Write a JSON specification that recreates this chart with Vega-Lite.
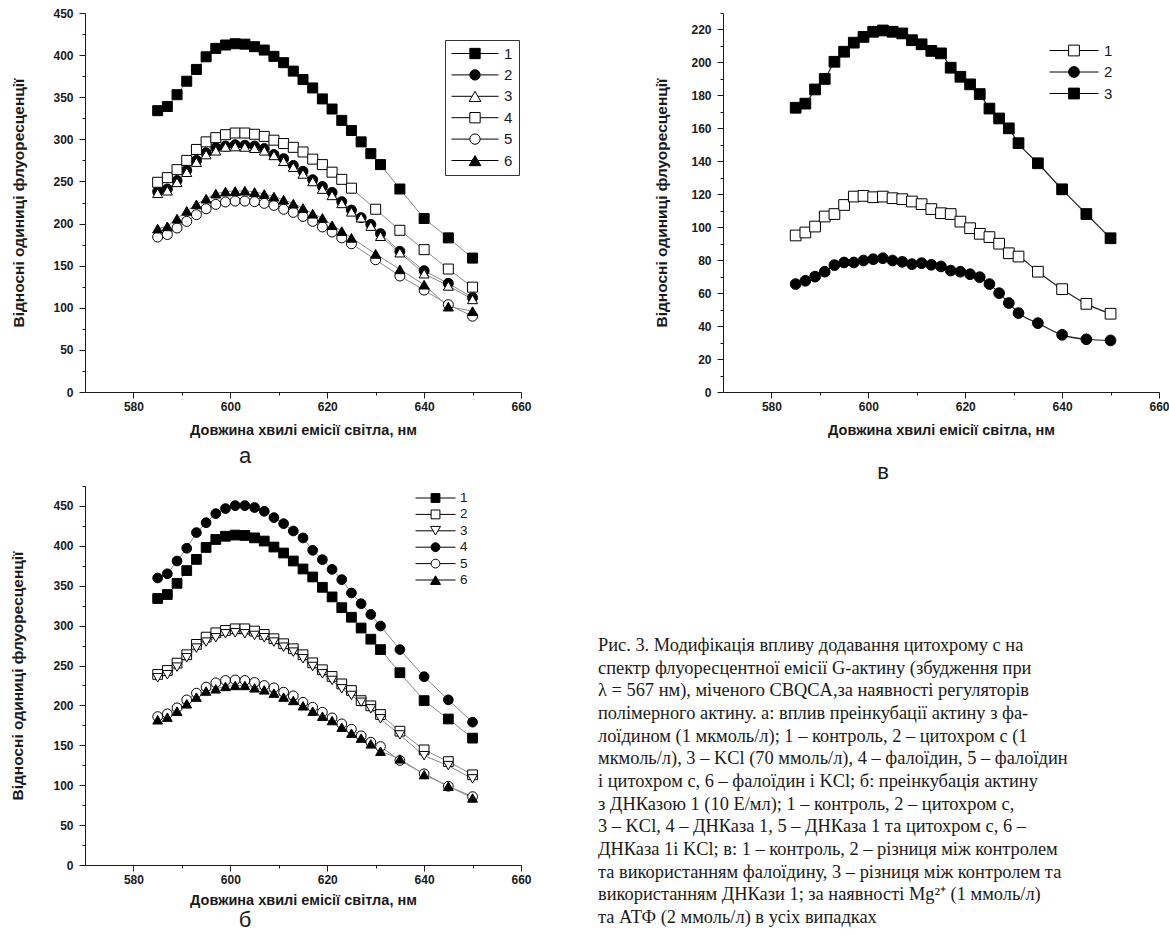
{
  "$schema": "https://vega.github.io/schema/vega-lite/v6.json",
  "background": "white",
  "padding": {"left": 10, "top": 7, "right": 0, "bottom": 0},
  "spacing": -3,
  "datasets": {
    "a": [
      {"w":585,"s":"1","v":334},{"w":587,"s":"1","v":339},{"w":589,"s":"1","v":353},{"w":591,"s":"1","v":369},{"w":593,"s":"1","v":383},{"w":595,"s":"1","v":398},{"w":597,"s":"1","v":408},{"w":599,"s":"1","v":412},{"w":601,"s":"1","v":413.5},{"w":603,"s":"1","v":413},{"w":605,"s":"1","v":410},{"w":607,"s":"1","v":406},{"w":609,"s":"1","v":398.5},{"w":611,"s":"1","v":391},{"w":613,"s":"1","v":381},{"w":615,"s":"1","v":371},{"w":617,"s":"1","v":361},{"w":619,"s":"1","v":348},{"w":621,"s":"1","v":336},{"w":623,"s":"1","v":322.5},{"w":625,"s":"1","v":310.5},{"w":627,"s":"1","v":297},{"w":629,"s":"1","v":283},{"w":631,"s":"1","v":270},{"w":635,"s":"1","v":241},{"w":640,"s":"1","v":206},{"w":645,"s":"1","v":183},{"w":650,"s":"1","v":159},
      {"w":585,"s":"2","v":238},{"w":587,"s":"2","v":241},{"w":589,"s":"2","v":251},{"w":591,"s":"2","v":263},{"w":593,"s":"2","v":275},{"w":595,"s":"2","v":284},{"w":597,"s":"2","v":290},{"w":599,"s":"2","v":292},{"w":601,"s":"2","v":293.5},{"w":603,"s":"2","v":293},{"w":605,"s":"2","v":292},{"w":607,"s":"2","v":289},{"w":609,"s":"2","v":282},{"w":611,"s":"2","v":277},{"w":613,"s":"2","v":269},{"w":615,"s":"2","v":262},{"w":617,"s":"2","v":252},{"w":619,"s":"2","v":244},{"w":621,"s":"2","v":237},{"w":623,"s":"2","v":226},{"w":625,"s":"2","v":216},{"w":627,"s":"2","v":207},{"w":629,"s":"2","v":199},{"w":631,"s":"2","v":188},{"w":635,"s":"2","v":167},{"w":640,"s":"2","v":144},{"w":645,"s":"2","v":129},{"w":650,"s":"2","v":112},
      {"w":585,"s":"3","v":236},{"w":587,"s":"3","v":239},{"w":589,"s":"3","v":249},{"w":591,"s":"3","v":261},{"w":593,"s":"3","v":273},{"w":595,"s":"3","v":282},{"w":597,"s":"3","v":286.5},{"w":599,"s":"3","v":291},{"w":601,"s":"3","v":291.5},{"w":603,"s":"3","v":291},{"w":605,"s":"3","v":289.5},{"w":607,"s":"3","v":286.5},{"w":609,"s":"3","v":281},{"w":611,"s":"3","v":274},{"w":613,"s":"3","v":267},{"w":615,"s":"3","v":259},{"w":617,"s":"3","v":250},{"w":619,"s":"3","v":241},{"w":621,"s":"3","v":233.5},{"w":623,"s":"3","v":224},{"w":625,"s":"3","v":214},{"w":627,"s":"3","v":207},{"w":629,"s":"3","v":197},{"w":631,"s":"3","v":185},{"w":635,"s":"3","v":165.5},{"w":640,"s":"3","v":140.5},{"w":645,"s":"3","v":126},{"w":650,"s":"3","v":110},
      {"w":585,"s":"4","v":249},{"w":587,"s":"4","v":254.5},{"w":589,"s":"4","v":264},{"w":591,"s":"4","v":275},{"w":593,"s":"4","v":288},{"w":595,"s":"4","v":297},{"w":597,"s":"4","v":302},{"w":599,"s":"4","v":305.5},{"w":601,"s":"4","v":307.5},{"w":603,"s":"4","v":307.5},{"w":605,"s":"4","v":306},{"w":607,"s":"4","v":303.5},{"w":609,"s":"4","v":299},{"w":611,"s":"4","v":295},{"w":613,"s":"4","v":290.5},{"w":615,"s":"4","v":285},{"w":617,"s":"4","v":276.5},{"w":619,"s":"4","v":270},{"w":621,"s":"4","v":261},{"w":623,"s":"4","v":252.5},{"w":625,"s":"4","v":242},{"w":630,"s":"4","v":217},{"w":635,"s":"4","v":192},{"w":640,"s":"4","v":169},{"w":645,"s":"4","v":146},{"w":650,"s":"4","v":124.5},
      {"w":585,"s":"5","v":184},{"w":587,"s":"5","v":187},{"w":589,"s":"5","v":194.7},{"w":591,"s":"5","v":202.6},{"w":593,"s":"5","v":210.5},{"w":595,"s":"5","v":217.6},{"w":597,"s":"5","v":222.8},{"w":599,"s":"5","v":225.6},{"w":601,"s":"5","v":226.7},{"w":603,"s":"5","v":226.7},{"w":605,"s":"5","v":226},{"w":607,"s":"5","v":224},{"w":609,"s":"5","v":221.6},{"w":611,"s":"5","v":217},{"w":613,"s":"5","v":213.3},{"w":615,"s":"5","v":208.5},{"w":617,"s":"5","v":202.6},{"w":619,"s":"5","v":196},{"w":621,"s":"5","v":190},{"w":623,"s":"5","v":183},{"w":625,"s":"5","v":176},{"w":630,"s":"5","v":157},{"w":635,"s":"5","v":137.7},{"w":640,"s":"5","v":121},{"w":645,"s":"5","v":103.7},{"w":650,"s":"5","v":90},
      {"w":585,"s":"6","v":194},{"w":587,"s":"6","v":196.7},{"w":589,"s":"6","v":205.8},{"w":591,"s":"6","v":215},{"w":593,"s":"6","v":222.8},{"w":595,"s":"6","v":229.5},{"w":597,"s":"6","v":235.5},{"w":599,"s":"6","v":238},{"w":601,"s":"6","v":238.6},{"w":603,"s":"6","v":239},{"w":605,"s":"6","v":237.4},{"w":607,"s":"6","v":235},{"w":609,"s":"6","v":232},{"w":611,"s":"6","v":228.3},{"w":613,"s":"6","v":223.6},{"w":615,"s":"6","v":218.4},{"w":617,"s":"6","v":211.7},{"w":619,"s":"6","v":206.6},{"w":621,"s":"6","v":198},{"w":623,"s":"6","v":191},{"w":625,"s":"6","v":183},{"w":630,"s":"6","v":164},{"w":635,"s":"6","v":145.6},{"w":640,"s":"6","v":127.4},{"w":645,"s":"6","v":101.3},{"w":650,"s":"6","v":96}
    ],
    "b": [
      {"w":585,"s":"1","v":334},{"w":587,"s":"1","v":339},{"w":589,"s":"1","v":353},{"w":591,"s":"1","v":369},{"w":593,"s":"1","v":383},{"w":595,"s":"1","v":398},{"w":597,"s":"1","v":408},{"w":599,"s":"1","v":412},{"w":601,"s":"1","v":413.5},{"w":603,"s":"1","v":413},{"w":605,"s":"1","v":410},{"w":607,"s":"1","v":406},{"w":609,"s":"1","v":398.5},{"w":611,"s":"1","v":391},{"w":613,"s":"1","v":381},{"w":615,"s":"1","v":371},{"w":617,"s":"1","v":361},{"w":619,"s":"1","v":348},{"w":621,"s":"1","v":336},{"w":623,"s":"1","v":322.5},{"w":625,"s":"1","v":310.5},{"w":627,"s":"1","v":297},{"w":629,"s":"1","v":283},{"w":631,"s":"1","v":270},{"w":635,"s":"1","v":241},{"w":640,"s":"1","v":206},{"w":645,"s":"1","v":183},{"w":650,"s":"1","v":159},
      {"w":585,"s":"2","v":238.8},{"w":587,"s":"2","v":243.8},{"w":589,"s":"2","v":253},{"w":591,"s":"2","v":263.5},{"w":593,"s":"2","v":276.5},{"w":595,"s":"2","v":285.6},{"w":597,"s":"2","v":291},{"w":599,"s":"2","v":294},{"w":601,"s":"2","v":296},{"w":603,"s":"2","v":296},{"w":605,"s":"2","v":293.2},{"w":607,"s":"2","v":289},{"w":609,"s":"2","v":283.6},{"w":611,"s":"2","v":277.3},{"w":613,"s":"2","v":271},{"w":615,"s":"2","v":263.5},{"w":617,"s":"2","v":253.4},{"w":619,"s":"2","v":244.7},{"w":621,"s":"2","v":236.3},{"w":623,"s":"2","v":227},{"w":625,"s":"2","v":218.7},{"w":627,"s":"2","v":206},{"w":629,"s":"2","v":199.5},{"w":631,"s":"2","v":188.6},{"w":635,"s":"2","v":167.7},{"w":640,"s":"2","v":144.3},{"w":645,"s":"2","v":129.6},{"w":650,"s":"2","v":113},
      {"w":585,"s":"3","v":234.6},{"w":587,"s":"3","v":238.4},{"w":589,"s":"3","v":248},{"w":591,"s":"3","v":259.7},{"w":593,"s":"3","v":271.9},{"w":595,"s":"3","v":279.4},{"w":597,"s":"3","v":284.8},{"w":599,"s":"3","v":289.8},{"w":601,"s":"3","v":291},{"w":603,"s":"3","v":289.8},{"w":605,"s":"3","v":287.7},{"w":607,"s":"3","v":284.8},{"w":609,"s":"3","v":279.4},{"w":611,"s":"3","v":273},{"w":613,"s":"3","v":266.8},{"w":615,"s":"3","v":258.5},{"w":617,"s":"3","v":248.8},{"w":619,"s":"3","v":239.6},{"w":621,"s":"3","v":231.3},{"w":623,"s":"3","v":220.8},{"w":625,"s":"3","v":212.5},{"w":627,"s":"3","v":204},{"w":629,"s":"3","v":195.7},{"w":631,"s":"3","v":183.2},{"w":635,"s":"3","v":163},{"w":640,"s":"3","v":137},{"w":645,"s":"3","v":124.6},{"w":650,"s":"3","v":107.9},
      {"w":585,"s":"4","v":359.7},{"w":587,"s":"4","v":365},{"w":589,"s":"4","v":381},{"w":591,"s":"4","v":397},{"w":593,"s":"4","v":416.6},{"w":595,"s":"4","v":429},{"w":597,"s":"4","v":440.4},{"w":599,"s":"4","v":446.7},{"w":601,"s":"4","v":450.4},{"w":603,"s":"4","v":450.4},{"w":605,"s":"4","v":448},{"w":607,"s":"4","v":443.3},{"w":609,"s":"4","v":435.4},{"w":611,"s":"4","v":427.8},{"w":613,"s":"4","v":418.6},{"w":615,"s":"4","v":409.9},{"w":617,"s":"4","v":394.4},{"w":619,"s":"4","v":382.7},{"w":621,"s":"4","v":370.5},{"w":623,"s":"4","v":357.6},{"w":625,"s":"4","v":340.9},{"w":627,"s":"4","v":327.5},{"w":629,"s":"4","v":314},{"w":631,"s":"4","v":299.5},{"w":635,"s":"4","v":270},{"w":640,"s":"4","v":236},{"w":645,"s":"4","v":207},{"w":650,"s":"4","v":179},
      {"w":585,"s":"5","v":186},{"w":587,"s":"5","v":189.5},{"w":589,"s":"5","v":197},{"w":591,"s":"5","v":207},{"w":593,"s":"5","v":215.4},{"w":595,"s":"5","v":223},{"w":597,"s":"5","v":228.4},{"w":599,"s":"5","v":231.3},{"w":601,"s":"5","v":232},{"w":603,"s":"5","v":231.3},{"w":605,"s":"5","v":228.8},{"w":607,"s":"5","v":225},{"w":609,"s":"5","v":222},{"w":611,"s":"5","v":216.6},{"w":613,"s":"5","v":212},{"w":615,"s":"5","v":204},{"w":617,"s":"5","v":197.8},{"w":619,"s":"5","v":191.5},{"w":621,"s":"5","v":184.4},{"w":623,"s":"5","v":176.9},{"w":625,"s":"5","v":170.2},{"w":627,"s":"5","v":161.9},{"w":629,"s":"5","v":153.9},{"w":631,"s":"5","v":148.5},{"w":635,"s":"5","v":131},{"w":640,"s":"5","v":114.3},{"w":645,"s":"5","v":98.7},{"w":650,"s":"5","v":85.7},
      {"w":585,"s":"6","v":182},{"w":587,"s":"6","v":185.3},{"w":589,"s":"6","v":192.8},{"w":591,"s":"6","v":202},{"w":593,"s":"6","v":210.4},{"w":595,"s":"6","v":218},{"w":597,"s":"6","v":220.8},{"w":599,"s":"6","v":223.8},{"w":601,"s":"6","v":225},{"w":603,"s":"6","v":225},{"w":605,"s":"6","v":222},{"w":607,"s":"6","v":219.5},{"w":609,"s":"6","v":215.4},{"w":611,"s":"6","v":210.4},{"w":613,"s":"6","v":206.2},{"w":615,"s":"6","v":199.5},{"w":617,"s":"6","v":192.8},{"w":619,"s":"6","v":186.5},{"w":621,"s":"6","v":181},{"w":623,"s":"6","v":172.7},{"w":625,"s":"6","v":165.2},{"w":627,"s":"6","v":159},{"w":629,"s":"6","v":151.8},{"w":631,"s":"6","v":142.6},{"w":635,"s":"6","v":133},{"w":640,"s":"6","v":113.3},{"w":645,"s":"6","v":98.7},{"w":650,"s":"6","v":84}
    ],
    "v": [
      {"w":585,"s":"1","v":95},{"w":587,"s":"1","v":96.8},{"w":589,"s":"1","v":100.4},{"w":591,"s":"1","v":106.5},{"w":593,"s":"1","v":108},{"w":595,"s":"1","v":113.5},{"w":597,"s":"1","v":118.6},{"w":599,"s":"1","v":119},{"w":601,"s":"1","v":118.2},{"w":603,"s":"1","v":118.6},{"w":605,"s":"1","v":117.6},{"w":607,"s":"1","v":117},{"w":609,"s":"1","v":115.6},{"w":611,"s":"1","v":114},{"w":613,"s":"1","v":111},{"w":615,"s":"1","v":108.5},{"w":617,"s":"1","v":108},{"w":619,"s":"1","v":103.4},{"w":621,"s":"1","v":99.4},{"w":623,"s":"1","v":96},{"w":625,"s":"1","v":94},{"w":627,"s":"1","v":90},{"w":629,"s":"1","v":84.2},{"w":631,"s":"1","v":82.2},{"w":635,"s":"1","v":73},{"w":640,"s":"1","v":62.4},{"w":645,"s":"1","v":53.5},{"w":650,"s":"1","v":47.5},
      {"w":585,"s":"2","v":65.5},{"w":587,"s":"2","v":67.5},{"w":589,"s":"2","v":70},{"w":591,"s":"2","v":73},{"w":593,"s":"2","v":77},{"w":595,"s":"2","v":78.6},{"w":597,"s":"2","v":78.6},{"w":599,"s":"2","v":79.8},{"w":601,"s":"2","v":80.6},{"w":603,"s":"2","v":81.2},{"w":605,"s":"2","v":79.8},{"w":607,"s":"2","v":79},{"w":609,"s":"2","v":77.6},{"w":611,"s":"2","v":78.2},{"w":613,"s":"2","v":77.2},{"w":615,"s":"2","v":76.2},{"w":617,"s":"2","v":73.7},{"w":619,"s":"2","v":73},{"w":621,"s":"2","v":71.5},{"w":623,"s":"2","v":69.7},{"w":625,"s":"2","v":65.5},{"w":627,"s":"2","v":60},{"w":629,"s":"2","v":54},{"w":631,"s":"2","v":47.9},{"w":635,"s":"2","v":41.8},{"w":640,"s":"2","v":34.7},{"w":645,"s":"2","v":32},{"w":650,"s":"2","v":31.3},
      {"w":585,"s":"3","v":172.5},{"w":587,"s":"3","v":175},{"w":589,"s":"3","v":183.6},{"w":591,"s":"3","v":190},{"w":593,"s":"3","v":200.4},{"w":595,"s":"3","v":206.5},{"w":597,"s":"3","v":212},{"w":599,"s":"3","v":215.5},{"w":601,"s":"3","v":218.6},{"w":603,"s":"3","v":219.4},{"w":605,"s":"3","v":218.6},{"w":607,"s":"3","v":217.6},{"w":609,"s":"3","v":213.5},{"w":611,"s":"3","v":211},{"w":613,"s":"3","v":207},{"w":615,"s":"3","v":205.5},{"w":617,"s":"3","v":196.8},{"w":619,"s":"3","v":191.3},{"w":621,"s":"3","v":186.7},{"w":623,"s":"3","v":180.8},{"w":625,"s":"3","v":172},{"w":627,"s":"3","v":166},{"w":629,"s":"3","v":160},{"w":631,"s":"3","v":151},{"w":635,"s":"3","v":138.8},{"w":640,"s":"3","v":123},{"w":645,"s":"3","v":108},{"w":650,"s":"3","v":93.3}
    ],
    "cap": [
      {"i":1,"t":"Рис. 3. Модифікація впливу додавання цитохрому c на"},
      {"i":2,"t":"спектр флуоресцентної емісії G-актину (збудження при"},
      {"i":3,"t":"λ = 567 нм), міченого CBQCA,за наявності регуляторів"},
      {"i":4,"t":"полімерного актину. а: вплив преінкубації актину з фа-"},
      {"i":5,"t":"лоїдином (1 мкмоль/л); 1 – контроль, 2 – цитохром c (1"},
      {"i":6,"t":"мкмоль/л), 3 – KCl (70 ммоль/л), 4 – фалоїдин, 5 – фалоїдин"},
      {"i":7,"t":"і цитохром c, 6 – фалоїдин і KCl; б: преінкубація актину"},
      {"i":8,"t":"з ДНКазою 1 (10 Е/мл); 1 – контроль, 2 – цитохром c,"},
      {"i":9,"t":"3 – KCl, 4 – ДНКаза 1, 5 – ДНКаза 1 та цитохром c, 6 –"},
      {"i":10,"t":"ДНКаза 1і KCl; в: 1 – контроль, 2 – різниця між контролем"},
      {"i":11,"t":"та використанням фалоїдину, 3 – різниця між контролем та"},
      {"i":12,"t":"використанням ДНКази 1; за наявності Mg²⁺ (1 ммоль/л)"},
      {"i":13,"t":"та АТФ (2 ммоль/л) в усіх випадках"}
    ]
  },
  "vconcat": [
    {
      "spacing": 122,
      "hconcat": [
        {
          "width": 436, "height": 379,
          "data": {"name": "a"},
          "title": {"text": "а", "dx": -58, "offset": 9},
          "encoding": {
            "x": {"field": "w", "type": "quantitative", "scale": {"domain": [570, 660], "nice": false, "zero": false},
              "axis": {"values": [580,590,600,610,620,630,640,650,660], "labelExpr": "datum.value % 20 === 0 ? datum.label : ''", "tickSize": {"condition": {"test": "datum.value % 20 === 0", "value": 6}, "value": 3}, "labelPadding": 3, "title": "Довжина хвилі емісії світла, нм", "titlePadding": 11}},
            "y": {"field": "v", "type": "quantitative", "scale": {"domain": [0, 450], "nice": false},
              "axis": {"values": [0,25,50,75,100,125,150,175,200,225,250,275,300,325,350,375,400,425,450], "labelExpr": "datum.value % 50 === 0 ? datum.label : ''", "tickSize": {"condition": {"test": "datum.value % 50 === 0", "value": 6}, "value": 3}, "labelPadding": 6, "title": "Відносні одиниці флуоресценції", "titlePadding": 26}}
          },
          "layer": [
            {"mark": {"type": "line", "color": "#8a8a8a", "strokeWidth": 1}, "encoding": {"detail": {"field": "s"}}},
            {"mark": {"type": "point", "filled": true, "stroke": "black", "strokeWidth": 1, "size": 100, "opacity": 1},
              "encoding": {
                "shape": {"field": "s", "type": "nominal", "scale": {"range": ["square","circle","triangle-up","square","circle","triangle-up"]}, "legend": null},
                "fill": {"field": "s", "type": "nominal", "scale": {"range": ["black","black","white","white","white","black"]}, "legend": null}
              }},
            {"mark": {"type": "point", "filled": true, "opacity": 0, "stroke": "black", "strokeWidth": 1},
              "encoding": {
                "shape": {"field": "s", "type": "nominal", "scale": {"range": [
                  "M-1,0H-0.22M0.22,0H1M-0.22,-0.22H0.22V0.22H-0.22Z",
                  "M-1,0H-0.22M0.22,0H1M0.22,0A0.22,0.22,0,1,1,-0.22,0A0.22,0.22,0,1,1,0.22,0Z",
                  "M-1,0H-0.12M0.12,0H1M0,-0.21L0.25,0.22L-0.25,0.22Z",
                  "M-1,0H-0.22M0.22,0H1M-0.22,-0.22H0.22V0.22H-0.22Z",
                  "M-1,0H-0.22M0.22,0H1M0.22,0A0.22,0.22,0,1,1,-0.22,0A0.22,0.22,0,1,1,0.22,0Z",
                  "M-1,0H-0.12M0.12,0H1M0,-0.21L0.25,0.22L-0.25,0.22Z"]},
                  "legend": {"title": null, "orient": "none", "legendX": 360, "legendY": 27, "padding": 6, "strokeColor": "#333", "symbolSize": 2209, "clipHeight": 15, "rowPadding": 5.4, "labelFontSize": 15, "labelOffset": 5, "symbolStrokeColor": "black", "symbolStrokeWidth": 1, "symbolOpacity": 1,
                    "encode": {"symbols": {"update": {"stroke": {"value": "black"}, "strokeWidth": {"value": 1}, "opacity": {"value": 1}}}}}},
                "fill": {"field": "s", "type": "nominal", "scale": {"range": ["black","black","white","white","white","black"]},
                  "legend": {"title": null, "orient": "none", "legendX": 360, "legendY": 27, "padding": 6, "strokeColor": "#333", "symbolSize": 2209, "clipHeight": 15, "rowPadding": 5.4, "labelFontSize": 15, "labelOffset": 5, "symbolStrokeColor": "black", "symbolStrokeWidth": 1, "symbolOpacity": 1,
                    "encode": {"symbols": {"update": {"stroke": {"value": "black"}, "strokeWidth": {"value": 1}, "opacity": {"value": 1}}}}}}
              }}
          ],
          "resolve": {"scale": {"shape": "independent", "fill": "independent"}}
        },
        {
          "width": 436, "height": 379,
          "data": {"name": "v"},
          "title": {"text": "в", "dx": -58, "offset": 25},
          "encoding": {
            "x": {"field": "w", "type": "quantitative", "scale": {"domain": [570, 660], "nice": false, "zero": false},
              "axis": {"values": [580,590,600,610,620,630,640,650,660], "labelExpr": "datum.value % 20 === 0 ? datum.label : ''", "tickSize": {"condition": {"test": "datum.value % 20 === 0", "value": 6}, "value": 3}, "labelPadding": 3, "title": "Довжина хвилі емісії світла, нм", "titlePadding": 11}},
            "y": {"field": "v", "type": "quantitative", "scale": {"domain": [0, 230], "nice": false},
              "axis": {"values": [0,10,20,30,40,50,60,70,80,90,100,110,120,130,140,150,160,170,180,190,200,210,220,230], "labelExpr": "datum.value % 20 === 0 ? datum.label : ''", "tickSize": {"condition": {"test": "datum.value % 20 === 0", "value": 6}, "value": 3}, "labelPadding": 6, "title": "Відносні одиниці флуоресценції", "titlePadding": 21}}
          },
          "layer": [
            {"mark": {"type": "line", "color": "#222", "strokeWidth": 1.2, "interpolate": "monotone"}, "encoding": {"detail": {"field": "s"}}},
            {"mark": {"type": "point", "filled": true, "stroke": "black", "strokeWidth": 1, "size": 115, "opacity": 1},
              "encoding": {
                "shape": {"field": "s", "type": "nominal", "scale": {"range": ["square","circle","square"]}, "legend": null},
                "fill": {"field": "s", "type": "nominal", "scale": {"range": ["white","black","black"]}, "legend": null}
              }},
            {"mark": {"type": "point", "filled": true, "opacity": 0, "stroke": "black", "strokeWidth": 1},
              "encoding": {
                "shape": {"field": "s", "type": "nominal", "scale": {"range": [
                  "M-1,0H-0.22M0.22,0H1M-0.22,-0.22H0.22V0.22H-0.22Z",
                  "M-1,0H-0.22M0.22,0H1M0.22,0A0.22,0.22,0,1,1,-0.22,0A0.22,0.22,0,1,1,0.22,0Z",
                  "M-1,0H-0.22M0.22,0H1M-0.22,-0.22H0.22V0.22H-0.22Z"]},
                  "legend": {"title": null, "orient": "none", "legendX": 326, "legendY": 30, "padding": 0, "symbolSize": 2401, "clipHeight": 15, "rowPadding": 5.5, "labelFontSize": 15, "labelOffset": 5, "symbolStrokeColor": "black", "symbolStrokeWidth": 1, "symbolOpacity": 1,
                    "encode": {"symbols": {"update": {"stroke": {"value": "black"}, "strokeWidth": {"value": 1}, "opacity": {"value": 1}}}}}},
                "fill": {"field": "s", "type": "nominal", "scale": {"range": ["white","black","black"]},
                  "legend": {"title": null, "orient": "none", "legendX": 326, "legendY": 30, "padding": 0, "symbolSize": 2401, "clipHeight": 15, "rowPadding": 5.5, "labelFontSize": 15, "labelOffset": 5, "symbolStrokeColor": "black", "symbolStrokeWidth": 1, "symbolOpacity": 1,
                    "encode": {"symbols": {"update": {"stroke": {"value": "black"}, "strokeWidth": {"value": 1}, "opacity": {"value": 1}}}}}}
              }}
          ],
          "resolve": {"scale": {"shape": "independent", "fill": "independent"}}
        }
      ]
    },
    {
      "spacing": 66,
      "hconcat": [
        {
          "width": 436, "height": 379,
          "data": {"name": "b"},
          "title": {"text": "б", "dx": -58, "offset": 3},
          "encoding": {
            "x": {"field": "w", "type": "quantitative", "scale": {"domain": [570, 660], "nice": false, "zero": false},
              "axis": {"values": [580,590,600,610,620,630,640,650,660], "labelExpr": "datum.value % 20 === 0 ? datum.label : ''", "tickSize": {"condition": {"test": "datum.value % 20 === 0", "value": 6}, "value": 3}, "labelPadding": 3, "title": "Довжина хвилі емісії світла, нм", "titlePadding": 8}},
            "y": {"field": "v", "type": "quantitative", "scale": {"domain": [0, 475], "nice": false},
              "axis": {"values": [0,25,50,75,100,125,150,175,200,225,250,275,300,325,350,375,400,425,450,475], "labelExpr": "datum.value % 50 === 0 ? datum.label : ''", "tickSize": {"condition": {"test": "datum.value % 50 === 0", "value": 6}, "value": 3}, "labelPadding": 6, "title": "Відносні одиниці флуоресценції", "titlePadding": 27}}
          },
          "layer": [
            {"mark": {"type": "line", "color": "#8a8a8a", "strokeWidth": 1}, "encoding": {"detail": {"field": "s"}}},
            {"mark": {"type": "point", "filled": true, "stroke": "black", "strokeWidth": 1, "size": 95, "opacity": 1},
              "encoding": {
                "shape": {"field": "s", "type": "nominal", "scale": {"range": ["square","square","triangle-down","circle","circle","triangle-up"]}, "legend": null},
                "fill": {"field": "s", "type": "nominal", "scale": {"range": ["black","white","white","black","white","black"]}, "legend": null}
              }},
            {"mark": {"type": "point", "filled": true, "opacity": 0, "stroke": "black", "strokeWidth": 1},
              "encoding": {
                "shape": {"field": "s", "type": "nominal", "scale": {"range": [
                  "M-1,0H-0.22M0.22,0H1M-0.22,-0.22H0.22V0.22H-0.22Z",
                  "M-1,0H-0.22M0.22,0H1M-0.22,-0.22H0.22V0.22H-0.22Z",
                  "M-1,0H-0.12M0.12,0H1M0,0.21L0.25,-0.22L-0.25,-0.22Z",
                  "M-1,0H-0.22M0.22,0H1M0.22,0A0.22,0.22,0,1,1,-0.22,0A0.22,0.22,0,1,1,0.22,0Z",
                  "M-1,0H-0.22M0.22,0H1M0.22,0A0.22,0.22,0,1,1,-0.22,0A0.22,0.22,0,1,1,0.22,0Z",
                  "M-1,0H-0.12M0.12,0H1M0,-0.21L0.25,0.22L-0.25,0.22Z"]},
                  "legend": {"title": null, "orient": "none", "legendX": 330, "legendY": 5, "padding": 0, "symbolSize": 1600, "clipHeight": 14, "rowPadding": 2.4, "labelFontSize": 13.5, "labelOffset": 4, "symbolStrokeColor": "black", "symbolStrokeWidth": 1, "symbolOpacity": 1,
                    "encode": {"symbols": {"update": {"stroke": {"value": "black"}, "strokeWidth": {"value": 1}, "opacity": {"value": 1}}}}}},
                "fill": {"field": "s", "type": "nominal", "scale": {"range": ["black","white","white","black","white","black"]},
                  "legend": {"title": null, "orient": "none", "legendX": 330, "legendY": 5, "padding": 0, "symbolSize": 1600, "clipHeight": 14, "rowPadding": 2.4, "labelFontSize": 13.5, "labelOffset": 4, "symbolStrokeColor": "black", "symbolStrokeWidth": 1, "symbolOpacity": 1,
                    "encode": {"symbols": {"update": {"stroke": {"value": "black"}, "strokeWidth": {"value": 1}, "opacity": {"value": 1}}}}}}
              }}
          ],
          "resolve": {"scale": {"shape": "independent", "fill": "independent"}}
        },
        {
          "width": 560, "height": 379,
          "data": {"name": "cap"},
          "mark": {"type": "text", "align": "left", "baseline": "middle", "font": "Liberation Serif", "fontSize": 18.4, "limit": 571, "ellipsis": "", "color": "#1a1a1a"},
          "encoding": {
            "x": {"value": 0},
            "y": {"field": "i", "type": "quantitative", "scale": {"domain": [1, 13], "range": [159, 431], "nice": false, "zero": false}, "axis": null},
            "text": {"field": "t"}
          }
        }
      ]
    }
  ],
  "config": {
    "view": {"stroke": null},
    "font": "Liberation Sans",
    "axis": {"grid": false, "domainColor": "#1a1a1a", "tickColor": "#1a1a1a", "labelColor": "#1a1a1a", "titleColor": "#1a1a1a", "labelFont": "Liberation Sans", "titleFont": "Liberation Sans", "labelFontWeight": "bold", "titleFontWeight": "bold", "labelFontSize": 12, "titleFontSize": 14.5, "labelFlush": false, "labelOverlap": false, "domainWidth": 1, "tickWidth": 1},
    "axisY": {"titleFontSize": 15.5},
    "legend": {"labelFont": "Liberation Sans", "labelColor": "#1a1a1a"},
    "title": {"font": "Liberation Sans", "fontSize": 22, "fontWeight": "normal", "color": "#1a1a1a", "orient": "bottom", "frame": "group"}
  }
}
